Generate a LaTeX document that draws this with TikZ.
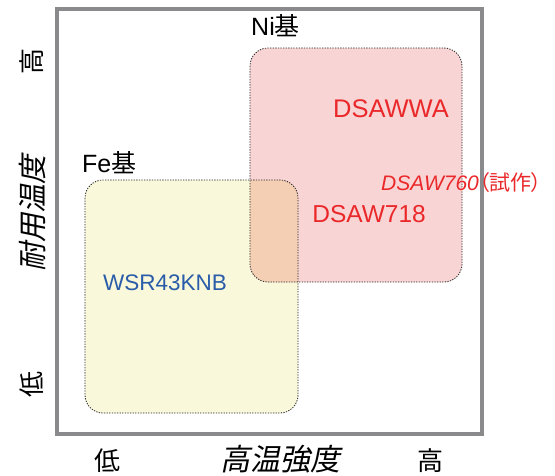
\documentclass[tikz,border=0pt]{standalone}
\usepackage{fontspec}
\setmainfont{Liberation Sans}
\newfontfamily\jafont{Noto Sans CJK JP}
\newfontfamily\japalt[RawFeature=+palt]{Noto Sans CJK JP}
\newfontfamily\jaslant[FakeSlant=0.2]{Noto Sans CJK JP}
\usetikzlibrary{positioning}

\definecolor{framegray}{RGB}{138,138,140}
\definecolor{nipink}{RGB}{249,212,212}
\definecolor{feyellow}{RGB}{249,248,218}
\definecolor{overlap}{RGB}{244,207,180}
\definecolor{alloyred}{RGB}{234,40,42}
\definecolor{alloyblue}{RGB}{42,92,170}

\begin{document}
\begin{tikzpicture}[x=1pt,y=-1pt,
  region/.style={draw=black!85,dash pattern=on 1.3pt off 1.3pt,line width=0.8pt,rounded corners=18pt},
  axislab/.style={font=\fontsize{26}{26}\selectfont,inner sep=0pt},
  group/.style={font=\fontsize{25}{25}\selectfont,inner sep=0pt},
  alloy/.style={font=\fontsize{24.5}{24.5}\selectfont,inner sep=0pt,text=alloyred}]

  \useasboundingbox (0,0) rectangle (555,475);

  % regions
  \fill[feyellow,rounded corners=18pt] (85,180) rectangle (298,413);
  \fill[nipink,rounded corners=18pt] (250,48) rectangle (462,282);
  \begin{scope}
    \clip[rounded corners=18pt] (85,180) rectangle (298,413);
    \fill[overlap,rounded corners=18pt] (250,48) rectangle (462,282);
  \end{scope}
  \draw[region] (85,180) rectangle (298,413);
  \draw[region] (250,48) rectangle (462,282);

  % frame
  \draw[framegray,line width=4pt] (56.5,9) rectangle (482,434);

  % group names
  \node[group,anchor=base west] (ni) at (251,35) {Ni{\jafont 基}};
  \node[group,anchor=base west] (fe) at (82,172) {Fe{\jafont 基}};

  % alloys
  \node[alloy,anchor=base east,font=\fontsize{25.5}{25.5}\selectfont] (wa) at (449,117) {DSAWWA};
  \node[alloy,anchor=base east] (d718) at (426,222) {DSAW718};
  \node[alloy,anchor=base west,font=\fontsize{21}{21}\selectfont] (d760) at (381,190)
    {\itshape DSAW760\upshape{\japalt （試作）}};
  \node[alloy,anchor=base west,text=alloyblue,font=\fontsize{22.5}{22.5}\selectfont] (wsr) at (103,290) {WSR43KNB};

  % axes
  \node[axislab,rotate=90,font=\fontsize{29}{29}\selectfont] (ylab) at (33,213) {\jaslant 耐用温度};
  \node[axislab,rotate=90] (yhi) at (32,61) {\jafont 高};
  \node[axislab,rotate=90] (ylo) at (32,384) {\jafont 低};
  \node[axislab] (xlo) at (107,461) {\jafont 低};
  \node[axislab,font=\fontsize{30}{30}\selectfont] (xlab) at (280,459) {\jaslant 高温強度};
  \node[axislab] (xhi) at (430,461) {\jafont 高};

\end{tikzpicture}
\end{document}
